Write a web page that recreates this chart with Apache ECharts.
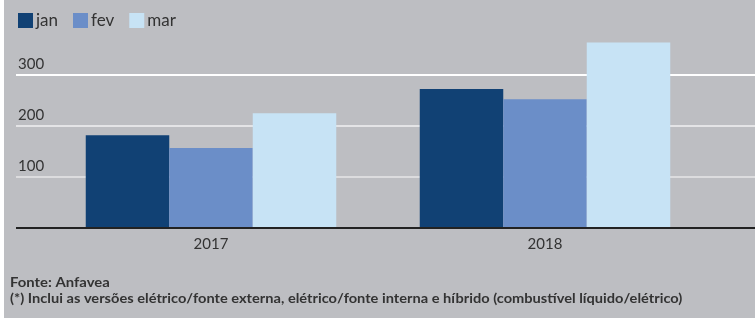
<!DOCTYPE html>
<html>
<head>
<meta charset="utf-8">
<script src="https://cdn.jsdelivr.net/npm/echarts@6/dist/echarts.min.js"></script>
<style>
  html, body { margin: 0; padding: 0; background: #fff; }
  #chart { position: absolute; left: 4px; top: 0; width: 751px; height: 318px; background: #bdbec2; }
</style>
</head>
<body>
<div id="chart"></div>
<script>
  const years = ['2017', '2018'];
  const jan = [181, 271];
  const fev = [156, 251];
  const mar = [224, 362];
  const seriesNames = ['jan', 'fev', 'mar'];
  const colors = ['#114174', '#6b8ec8', '#c7e3f5'];
  const fonte = 'Fonte: Anfavea';
  const nota = '(*) Inclui as versões elétrico/fonte externa, elétrico/fonte interna e híbrido (combustível líquido/elétrico)';

  const font = 'Lato, "DejaVu Sans", sans-serif';
  const chart = echarts.init(document.getElementById('chart'));

  const option = {
    animation: false,
    color: colors,
    legend: {
      left: 9,
      top: 7,
      itemWidth: 15,
      itemHeight: 15,
      itemGap: 15,
      icon: 'rect',
      textStyle: { color: '#333', fontSize: 17, fontFamily: font, padding: [0, 0, 0, -2] },
      data: seriesNames
    },
    grid: [
      { left: 12, right: 0, top: 23, bottom: 90 },
      { left: 40, right: 43, top: 23, bottom: 90 }
    ],
    xAxis: [
      { gridIndex: 0, type: 'value', show: false, min: 0, max: 1 },
      {
        gridIndex: 1,
        type: 'category',
        data: years,
        axisLine: { show: false },
        axisTick: { show: false },
        axisLabel: { color: '#333', fontSize: 15, fontFamily: font, margin: 9 }
      }
    ],
    yAxis: [
      {
        gridIndex: 0,
        type: 'value',
        min: 0,
        max: 400,
        interval: 100,
        axisLine: { show: true, onZero: false, lineStyle: { color: 'rgba(0,0,0,0)' } },
        axisTick: { show: false },
        axisLabel: {
          inside: true,
          margin: 2,
          color: '#333',
          fontSize: 15,
          fontFamily: font,
          verticalAlign: 'bottom',
          padding: [0, 0, 3, 0],
          formatter: v => (v === 0 || v === 400 ? '' : String(v))
        },
        splitLine: {
          show: true,
          showMaxLine: false,
          lineStyle: { color: ['#222', '#dcdcde', '#e4e4e6', '#ffffff'], width: 2 }
        },
        z: 1
      },
      { gridIndex: 1, type: 'value', min: 0, max: 400, show: false }
    ],
    series: [
      { name: 'jan', type: 'bar', xAxisIndex: 1, yAxisIndex: 1, data: jan, barWidth: 83.5, barGap: '0%', z: 3 },
      { name: 'fev', type: 'bar', xAxisIndex: 1, yAxisIndex: 1, data: fev, barWidth: 83.5, barGap: '0%', z: 3 },
      { name: 'mar', type: 'bar', xAxisIndex: 1, yAxisIndex: 1, data: mar, barWidth: 83.5, barGap: '0%', z: 3 },
      {
        type: 'line', xAxisIndex: 0, yAxisIndex: 0, data: [[0, 0], [1, 0]],
        symbol: 'none', lineStyle: { color: '#222', width: 2 }, z: 4, silent: true
      }
    ],
    graphic: [
      {
        type: 'text', x: 6, y: 276, scaleX: 1.19,
        style: { text: fonte, fill: '#333', fontSize: 12.5, fontWeight: 'bold', fontFamily: font }
      },
      {
        type: 'text', x: 6, y: 292, scaleX: 1.17,
        style: { text: nota, fill: '#333', fontSize: 12.5, fontWeight: 'bold', fontFamily: font }
      }
    ]
  };

  chart.setOption(option);
</script>
</body>
</html>
